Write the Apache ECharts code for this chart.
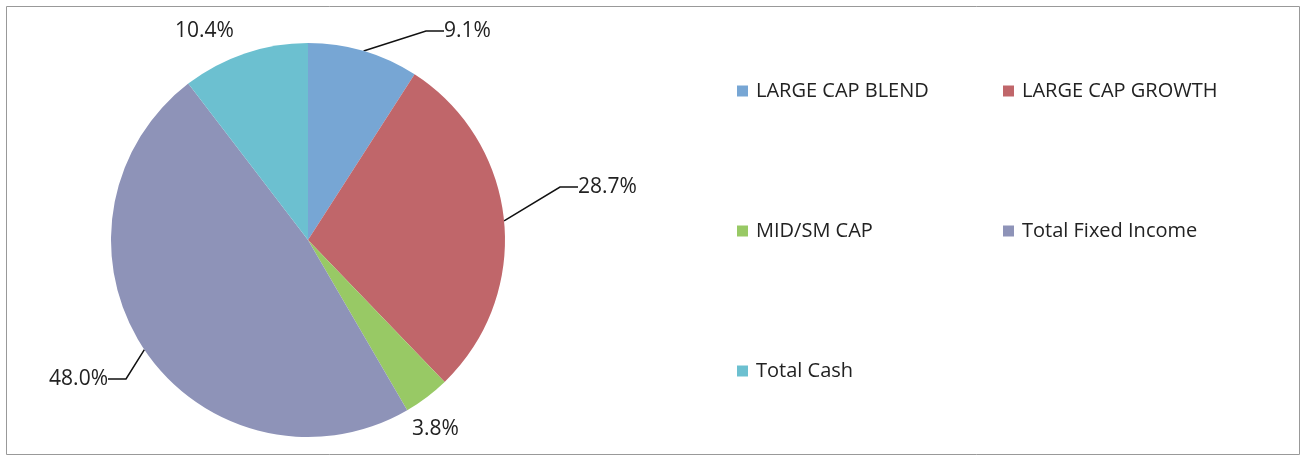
<!DOCTYPE html>
<html lang="en">
<head>
    <meta charset="utf-8"/>
    <title>Asset Allocation</title>
    <script src="https://cdn.jsdelivr.net/npm/echarts@6/dist/echarts.min.js"></script>
    <style>
        html, body { margin: 0; padding: 0; background: #fff; }
        #allocation { width: 1310px; height: 460px; }
    </style>
</head>
<body>
    <div id="allocation"></div>
    <script>
        const categories = ['LARGE CAP BLEND', 'LARGE CAP GROWTH', 'MID/SM CAP', 'Total Fixed Income', 'Total Cash'];
        const weights = [9.1, 28.7, 3.8, 48.0, 10.4];
        const colors = ['#77a6d4', '#c0666a', '#98c965', '#8e93b8', '#6cc0d0'];

        const chart = echarts.init(document.getElementById('allocation'));
        const font = '"Open Sans", sans-serif';
        const legendText = { fontFamily: font, fontSize: 20, lineHeight: 20, color: '#222', padding: [0, 0, 0, 3] };

        // where Excel put the data labels (text anchor), small slices get no leader line
        const labelSpots = [
            { x: 444, y: 31, align: 'left' },
            { x: 578, y: 187, align: 'left' },
            { x: 412, y: 429, align: 'left' },
            { x: 108, y: 379, align: 'right' },
            { x: 175, y: 31, align: 'left' }
        ];
        const noLeader = [2, 4];

        const option = {
            animation: false,
            color: colors,
            graphic: [{
                type: 'rect',
                shape: { x: 6.5, y: 6.5, width: 1293, height: 448 },
                style: { fill: 'none', stroke: '#999', lineWidth: 1 },
                silent: true
            }],
            legend: [
                {
                    orient: 'vertical', left: 737, top: 81, padding: 0,
                    itemWidth: 11, itemHeight: 11, itemGap: 120, icon: 'rect',
                    textStyle: legendText,
                    data: [categories[0], categories[2], categories[4]]
                },
                {
                    orient: 'vertical', left: 1003, top: 81, padding: 0,
                    itemWidth: 11, itemHeight: 11, itemGap: 120, icon: 'rect',
                    textStyle: legendText,
                    data: [categories[1], categories[3]]
                }
            ],
            series: [{
                type: 'pie',
                center: [308, 240],
                radius: 197,
                startAngle: 90,
                clockwise: true,
                label: {
                    position: 'outside',
                    fontFamily: font,
                    fontSize: 21,
                    color: '#222',
                    formatter: function (p) { return p.value.toFixed(1) + '%'; }
                },
                labelLine: {
                    length: 12,
                    length2: 18,
                    lineStyle: { color: '#111', width: 1.5 }
                },
                labelLayout: function (params) {
                    const s = labelSpots[params.dataIndex];
                    return { x: s.x, y: s.y, align: s.align, verticalAlign: 'middle' };
                },
                data: categories.map(function (name, i) {
                    const item = { name: name, value: weights[i] };
                    if (noLeader.indexOf(i) >= 0) item.labelLine = { show: false };
                    return item;
                })
            }]
        };
        chart.setOption(option);
    </script>
</body>
</html>
